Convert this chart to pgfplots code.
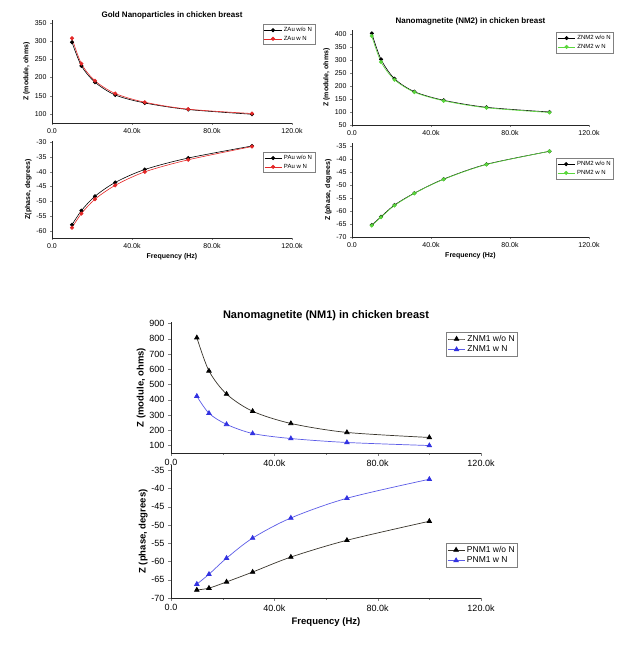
\documentclass[border=0pt]{standalone}
\usepackage{fontspec}
\setmainfont{Liberation Sans}
\usepackage{pgfplots}
\usepackage{pgfplotstable}
\pgfplotsset{compat=1.18}

% frequency in kHz
\pgfplotstableread{
f     zwo   zw    pwo    pw
10    297   308   -58.0  -59.0
14.7  232   238   -53.2  -54.2
21.5  187   191   -48.3  -49.3
31.6  152   156   -43.6  -44.6
46.4  130   132   -39.2  -40.0
68.1  112   113   -35.3  -35.9
100   99    101   -31.2  -31.4
}\gold

\pgfplotstableread{
f     zwo   zw    pwo    pw
10    402   392   -65.4  -65.6
14.7  302   292   -62.2  -62.4
21.5  228   224   -57.7  -57.9
31.6  178   176   -53.1  -53.2
46.4  145   143   -47.7  -47.8
68.1  118   116   -42.0  -42.1
100   100   98    -37.0  -37.0
}\nmtwo

\pgfplotstableread{
f     zwo   zw    pwo    pw
10    807   423   -67.8  -66.2
14.7  589   311   -67.3  -63.5
21.5  437   238   -65.6  -59.1
31.6  324   178   -62.9  -53.6
46.4  244   145   -58.8  -48.1
68.1  185   119   -54.2  -42.7
100   152   99    -49.0  -37.5
}\nmone

\definecolor{cred}{RGB}{228,40,40}
\definecolor{cgreen}{RGB}{90,215,60}
\definecolor{cblue}{RGB}{50,50,225}

\pgfplotsset{
  panel/.style={
    scale only axis, anchor=south west,
    axis lines*=left, tick align=outside,
    axis line style={line width=0.9pt, black!85},
    xmin=0, xmax=120,
    xtick={0,40,80,120}, xticklabels={0.0,40.0k,80.0k,120.0k},
    minor xtick={20,60,100},
    /pgf/number format/assume math mode=true,
    legend cell align=left,
    legend style={draw=black!50, line width=0.4pt, inner sep=1pt,
      row sep=-1pt, anchor=north east},
  },
  small/.style={panel,
    tick label style={font=\fontsize{7}{8}\selectfont},
    label style={font=\fontsize{7}{8}\selectfont\bfseries},
    title style={font=\fontsize{8}{9}\selectfont\bfseries},
    legend style={font=\fontsize{6}{6.5}\selectfont},
    major tick length=2pt, minor tick length=1.2pt,
    every axis plot/.append style={line width=0.6pt, mark size=1.7pt},
    ylabel style={yshift=-2pt},
    xlabel style={yshift=2pt},
  },
  big/.style={panel,
    tick label style={font=\fontsize{9}{10}\selectfont},
    label style={font=\fontsize{9.5}{11}\selectfont\bfseries},
    title style={font=\fontsize{11}{12}\selectfont\bfseries},
    legend style={font=\fontsize{8.5}{9}\selectfont},
    major tick length=3pt, minor tick length=1.8pt,
    every axis plot/.append style={line width=0.7pt, mark size=2.6pt},
    ylabel style={yshift=-3pt},
  },
}

\begin{document}
\begin{tikzpicture}
\useasboundingbox (0pt,0pt) rectangle (628pt,645pt);

% ---- Gold nanoparticles
\begin{axis}[small, at={(52pt,522pt)}, width=240pt, height=103pt,
  ymin=75, ymax=358, ytick={100,150,...,350},
  title={Gold Nanoparticles in chicken breast},
  title style={yshift=-9pt},
  ylabel={Z (module, ohms)},
  legend style={at={(1.096,0.961)}}]
\addplot[black, smooth, mark=*] table[x=f, y=zwo] {\gold};
\addplot[cred, smooth, mark=*, mark options={fill=cred}] table[x=f, y=zw] {\gold};
\legend{ZAu w/o N, ZAu w N}
\end{axis}
\begin{axis}[small, at={(52pt,407pt)}, width=240pt, height=97pt,
  ymin=-62.5, ymax=-29.5, ytick={-60,-55,...,-30},
  xlabel={Frequency (Hz)},
  ylabel={Z(phase, degrees)},
  legend style={at={(1.096,0.887)}}]
\addplot[black, smooth, mark=*] table[x=f, y=pwo] {\gold};
\addplot[cred, smooth, mark=*, mark options={fill=cred}] table[x=f, y=pw] {\gold};
\legend{PAu w/o N, PAu w N}
\end{axis}

% ---- NM2
\begin{axis}[small, at={(352pt,520pt)}, width=237pt, height=95pt,
  ymin=50, ymax=415, ytick={50,100,...,400},
  title={Nanomagnetite (NM2) in chicken breast},
  title style={yshift=-5pt},
  ylabel={Z (module, ohms)},
  legend style={at={(1.105,0.979)}}]
\addplot[black, smooth, mark=*] table[x=f, y=zwo] {\nmtwo};
\addplot[cgreen, smooth, mark=*, mark options={fill=cgreen}] table[x=f, y=zw] {\nmtwo};
\legend{ZNM2 w/o N, ZNM2 w N}
\end{axis}
\begin{axis}[small, at={(352pt,408pt)}, width=237pt, height=94pt,
  ymin=-70, ymax=-33.8, ytick={-70,-65,...,-35},
  xlabel={Frequency (Hz)},
  ylabel={Z (phase, degrees)},
  legend style={at={(1.105,0.84)}}]
\addplot[black, smooth, mark=*] table[x=f, y=pwo] {\nmtwo};
\addplot[cgreen, smooth, mark=*, mark options={fill=cgreen}] table[x=f, y=pw] {\nmtwo};
\legend{PNM2 w/o N, PNM2 w N}
\end{axis}

% ---- NM1
\begin{axis}[big, at={(171pt,192pt)}, width=310pt, height=131pt,
  ymin=50, ymax=910, ytick={100,200,...,900},
  title={Nanomagnetite (NM1) in chicken breast},
  title style={yshift=-8pt},
  ylabel={Z (module, ohms)},
  legend style={at={(1.119,0.924)}}]
\addplot[black!80!olive, smooth, mark=triangle*, mark options={fill=black, draw=black}] table[x=f, y=zwo] {\nmone};
\addplot[cblue!80, smooth, mark=triangle*, mark options={fill=cblue, draw=cblue}] table[x=f, y=zw] {\nmone};
\legend{ZNM1 w/o N, ZNM1 w N}
\end{axis}
\begin{axis}[big, at={(171pt,47pt)}, width=310pt, height=133pt,
  ymin=-70, ymax=-33.6, ytick={-70,-65,...,-35},
  xlabel={Frequency (Hz)},
  ylabel={Z (phase, degrees)},
  legend style={at={(1.119,0.414)}}]
\addplot[black!80!olive, smooth, mark=triangle*, mark options={fill=black, draw=black}] table[x=f, y=pwo] {\nmone};
\addplot[cblue!80, smooth, mark=triangle*, mark options={fill=cblue, draw=cblue}] table[x=f, y=pw] {\nmone};
\legend{PNM1 w/o N, PNM1 w N}
\end{axis}
\end{tikzpicture}
\end{document}
